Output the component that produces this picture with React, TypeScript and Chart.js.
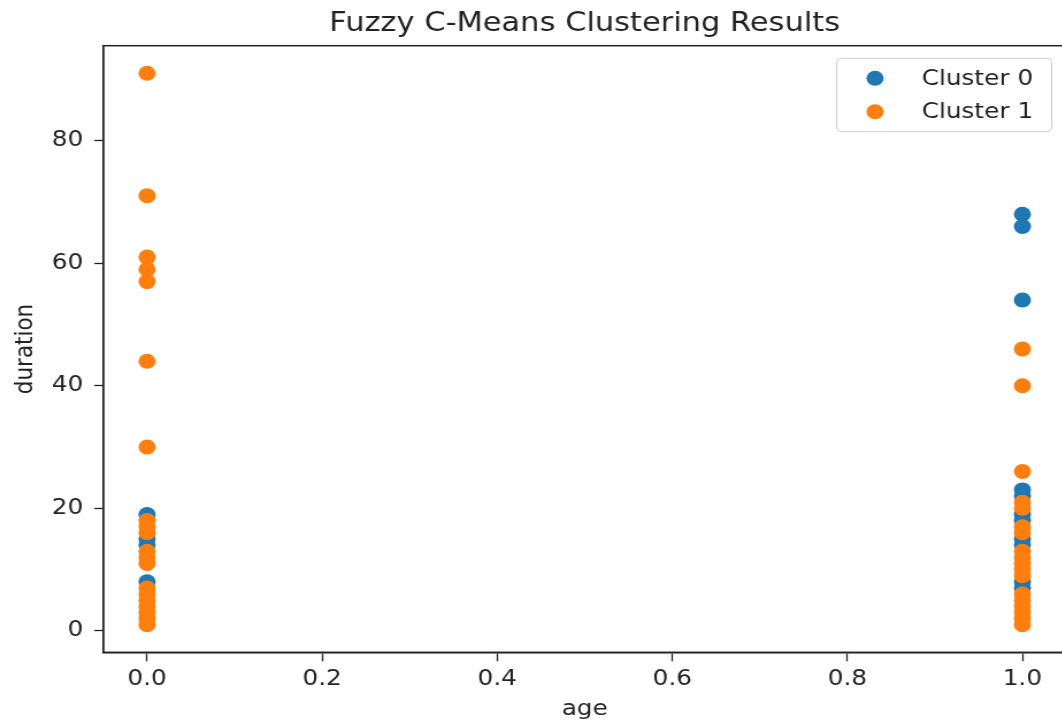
import React, { useEffect, useRef } from "react";
import { Chart, registerables } from "chart.js";

Chart.register(...registerables);

// ---- data ----
const cluster0Age = [0, 0, 0, 0, 1, 1, 1, 1, 1, 1, 1, 1, 1, 1, 1];
const cluster0Duration = [19, 15, 14, 8, 68, 66, 54, 23, 22, 19, 18, 15, 14, 8, 7];

const cluster1Age = [
  0, 0, 0, 0, 0, 0, 0, 0, 0, 0, 0, 0, 0, 0, 0, 0, 0, 0, 0, 0,
  1, 1, 1, 1, 1, 1, 1, 1, 1, 1, 1, 1, 1, 1, 1, 1, 1, 1,
];
const cluster1Duration = [
  91, 71, 61, 59, 57, 44, 30, 18, 17, 16, 13, 12, 11, 7, 6, 5, 4, 3, 2, 1,
  46, 40, 26, 21, 20, 17, 16, 13, 12, 11, 10, 9, 6, 5, 4, 3, 2, 1,
];

const seriesLabels = ["Cluster 0", "Cluster 1"];
const seriesColors = ["#1f77b4", "#ff7f0e"];

const xTicks = [0.0, 0.2, 0.4, 0.6, 0.8, 1.0];
const yTicks = [0, 20, 40, 60, 80];

const titleText = "Fuzzy C-Means Clustering Results";
const xTitle = "age";
const yTitle = "duration";

// ---- layout ----
const X_STRETCH = 1.15;
const CANVAS_W = 940;
const CANVAS_H = 724;
const FONT = "'DejaVu Sans', sans-serif";
const TEXT = "#222222";
const POINT_R = 7.5;

const zip = (xs: number[], ys: number[]) => xs.map((x, i) => ({ x, y: ys[i] }));

const framePlugin = {
  id: "frameAndLegend",
  afterDatasetsDraw(chart: any) {
    const { ctx, chartArea } = chart;
    const { left, top, right, bottom } = chartArea;
    ctx.save();
    ctx.strokeStyle = TEXT;
    ctx.lineWidth = 1.5;
    ctx.strokeRect(left, top, right - left, bottom - top);

    // legend (matplotlib style, upper right inside axes)
    const boxW = 186.9;
    const boxH = 73.4;
    const bx = right - 12.6 - boxW;
    const by = top + 12.6;
    ctx.beginPath();
    (ctx as any).roundRect(bx, by, boxW, boxH, 4);
    ctx.fillStyle = "rgba(255,255,255,0.8)";
    ctx.fill();
    ctx.strokeStyle = "#cccccc";
    ctx.lineWidth = 1;
    ctx.stroke();

    const rows = [20, 53.4];
    chart.data.datasets.forEach((ds: any, i: number) => {
      const cy = by + rows[i];
      ctx.beginPath();
      ctx.arc(bx + 33.3, cy, POINT_R, 0, Math.PI * 2);
      ctx.fillStyle = ds.backgroundColor;
      ctx.fill();
      ctx.fillStyle = TEXT;
      ctx.font = `21.5px ${FONT}`;
      ctx.textBaseline = "middle";
      ctx.textAlign = "left";
      ctx.fillText(ds.label, bx + 73.9, cy + 1);
    });
    ctx.restore();
  },
};

export default function App() {
  const ref = useRef<HTMLCanvasElement>(null);

  useEffect(() => {
    const prevMargin = document.body.style.margin;
    document.body.style.margin = "0";
    const canvas = ref.current!;
    const chart = new Chart(canvas, {
      type: "scatter",
      data: {
        datasets: [
          {
            label: seriesLabels[0],
            data: zip(cluster0Age, cluster0Duration),
            backgroundColor: seriesColors[0],
            borderWidth: 0,
            pointRadius: POINT_R,
            pointHoverRadius: POINT_R,
            order: 1,
          },
          {
            label: seriesLabels[1],
            data: zip(cluster1Age, cluster1Duration),
            backgroundColor: seriesColors[1],
            borderWidth: 0,
            pointRadius: POINT_R,
            pointHoverRadius: POINT_R,
            order: 0,
          },
        ],
      },
      options: {
        animation: false,
        responsive: false,
        devicePixelRatio: 1,
        events: [],
        layout: { padding: { left: 0, top: 0, right: 12.9, bottom: 0 } },
        plugins: {
          legend: { display: false },
          tooltip: { enabled: false },
          title: {
            display: true,
            text: titleText,
            fullSize: false,
            color: TEXT,
            font: { family: FONT, size: 26.5, weight: "normal" },
            padding: { top: 8.5, bottom: 5.4 },
          },
        },
        scales: {
          x: {
            type: "linear",
            min: -0.05,
            max: 1.05,
            afterBuildTicks: (s: any) => {
              s.ticks = xTicks.map((v) => ({ value: v }));
            },
            afterFit: (s: any) => {
              s.height = 71.7;
            },
            ticks: {
              callback: (v: any) => Number(v).toFixed(1),
              color: TEXT,
              font: { family: FONT, size: 21.5 },
              padding: 5.3,
              maxRotation: 0,
              autoSkip: false,
            },
            grid: {
              drawOnChartArea: false,
              drawTicks: true,
              tickLength: 9,
              tickWidth: 1.3,
              tickColor: TEXT,
            },
            border: { display: true, color: TEXT, width: 1.5 },
            title: {
              display: true,
              text: xTitle,
              color: TEXT,
              font: { family: FONT, size: 21.5 },
              padding: { top: 0, bottom: 1.6 },
            },
          },
          y: {
            type: "linear",
            min: -3.5,
            max: 95.5,
            afterBuildTicks: (s: any) => {
              s.ticks = yTicks.map((v) => ({ value: v }));
            },
            afterFit: (s: any) => {
              s.width = 89.8;
            },
            ticks: {
              callback: (v: any) => String(v),
              color: TEXT,
              font: { family: FONT, size: 21.5 },
              padding: 9.6,
              autoSkip: false,
            },
            grid: {
              drawOnChartArea: false,
              drawTicks: true,
              tickLength: 7.8,
              tickWidth: 1.3,
              tickColor: TEXT,
            },
            border: { display: true, color: TEXT, width: 1.5 },
            title: {
              display: true,
              text: yTitle,
              color: TEXT,
              font: { family: FONT, size: 21.5 },
              padding: { top: 9.6, bottom: 0 },
            },
          },
        },
      } as any,
      plugins: [framePlugin],
    });
    return () => {
      chart.destroy();
      document.body.style.margin = prevMargin;
    };
  }, []);

  return (
    <div
      style={{
        position: "fixed",
        left: 0,
        top: 0,
        width: 1062,
        height: 724,
        overflow: "hidden",
        background: "#ffffff",
      }}
    >
      <canvas
        ref={ref}
        width={CANVAS_W}
        height={CANVAS_H}
        style={{
          width: CANVAS_W,
          height: CANVAS_H,
          display: "block",
          transform: `scaleX(${X_STRETCH})`,
          transformOrigin: "0 0",
        }}
      />
    </div>
  );
}
